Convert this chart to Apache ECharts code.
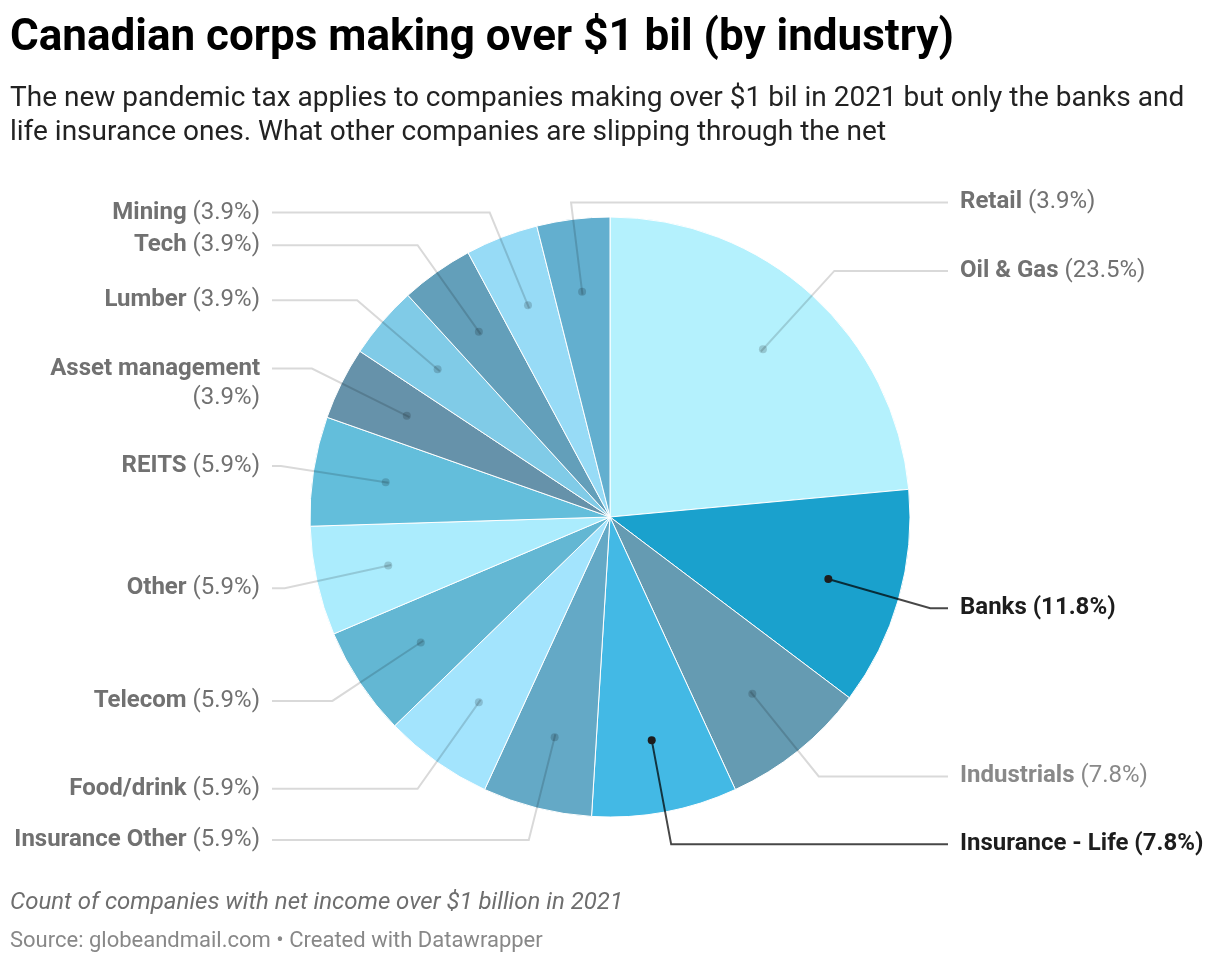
<!DOCTYPE html>
<html>
<head>
<meta charset="utf-8">
<script src="https://cdn.jsdelivr.net/npm/echarts@6/dist/echarts.min.js"></script>
<style>
  html, body { margin: 0; padding: 0; background: #fff; }
  #main { width: 1220px; height: 962px; }
</style>
</head>
<body>
<div id="main"></div>
<script>
// data: count of companies with net income over $1 billion in 2021
var industries = ['Oil & Gas', 'Banks', 'Industrials', 'Insurance - Life', 'Insurance Other',
  'Food/drink', 'Telecom', 'Other', 'REITS', 'Asset management', 'Lumber', 'Tech', 'Mining', 'Retail'];
var counts = [12, 6, 4, 4, 3, 3, 3, 3, 3, 2, 2, 2, 2, 2];
var sliceColors = ['#b4f1fd', '#1aa1cd', '#659bb2', '#43b9e5', '#64a9c6', '#a3e4fd', '#63b7d3',
  '#abecfd', '#63bedb', '#6692aa', '#80cbe7', '#639fba', '#97dbf6', '#63afcf'];
var highlighted = ['Banks', 'Insurance - Life'];
var faded = ['Industrials'];
var rightSideSmall = ['Retail'];   // label goes to the right although slice is just left of top

var total = counts.reduce(function (a, b) { return a + b; }, 0);
var FONT = 'Roboto';

var myChart = echarts.init(document.getElementById('main'));

function pct(v) {
  return (v / total * 100).toFixed(1) + '%';
}

var box = { left: 0, right: 0, top: 170, bottom: 100 };
var center = [610, 347];
var outerR = 300, labelR = 224, lineOut = 38, textGap = 12;

var labelData = industries.map(function (name, i) {
  var item = { name: name, value: counts[i] };
  if (highlighted.indexOf(name) >= 0) {
    item.labelLine = { lineStyle: { color: 'rgba(0,0,0,0.72)' } };
  }
  if (name === 'Asset management') {
    item.label = { padding: [29, 0, 0, 0] };
  }
  return item;
});

var dotData = industries.map(function (name, i) {
  var hi = highlighted.indexOf(name) >= 0;
  return {
    name: name, value: counts[i],
    label: { backgroundColor: hi ? '#1d1d1d' : 'rgba(0,0,0,0.17)' }
  };
});

// line ends all line up left and right of the pie, like datawrapper does
function alignLabels(p) {
  var pts = p.labelLinePoints;
  if (!pts) return;
  var cx = box.left + center[0], cy = box.top + center[1];
  var p0 = pts[0], elbow = pts[1];
  var side = pts[2][0] < elbow[0] ? -1 : 1;
  if (rightSideSmall.indexOf(industries[p.dataIndex]) >= 0) {
    side = 1;
    var k = (outerR + 17) / labelR;
    elbow = [cx + (p0[0] - cx) * k, cy + (p0[1] - cy) * k];
  }
  var endX = cx + side * (outerR + lineOut);
  return {
    x: endX + side * textGap, y: elbow[1],
    align: side < 0 ? 'right' : 'left', verticalAlign: 'middle',
    labelLinePoints: [p0, elbow, [endX, elbow[1]]]
  };
}

option = {
  backgroundColor: '#fff',
  animation: false,
  title: [{
    text: 'Canadian corps making over $1 bil (by industry)',
    subtext: 'The new pandemic tax applies to companies making over $1 bil in 2021 but only the banks and\nlife insurance ones. What other companies are slipping through the net',
    left: 10, top: 13, padding: 0,
    itemGap: 17,
    textStyle: { fontFamily: FONT, fontSize: 44, fontWeight: 'bold', color: '#000', lineHeight: 52 },
    subtextStyle: { fontFamily: FONT, fontSize: 28, color: '#222', lineHeight: 34 }
  }, {
    text: 'Count of companies with net income over $1 billion in 2021',
    left: 10, top: 888, padding: 0,
    textStyle: { fontFamily: FONT, fontSize: 24, fontWeight: 'normal', fontStyle: 'italic', color: '#6e6e6e', lineHeight: 30 }
  }, {
    text: 'Source: globeandmail.com • Created with Datawrapper',
    left: 10, top: 928, padding: 0,
    textStyle: { fontFamily: FONT, fontSize: 22, fontWeight: 'normal', color: '#888', lineHeight: 26 }
  }],
  series: [
    {
      // the slices
      type: 'pie',
      z: 1,
      left: box.left, right: box.right, top: box.top, bottom: box.bottom,
      center: center,
      radius: [0, outerR],
      startAngle: 90,
      clockwise: true,
      silent: true,
      label: { show: false },
      labelLine: { show: false },
      itemStyle: { borderColor: '#fff', borderWidth: 1 },
      data: industries.map(function (name, i) {
        return { name: name, value: counts[i], itemStyle: { color: sliceColors[i] } };
      })
    },
    {
      // invisible inner pie that carries the labels, so lines start inside the slices
      type: 'pie',
      z: 3,
      left: box.left, right: box.right, top: box.top, bottom: box.bottom,
      center: center,
      radius: [0, labelR],
      startAngle: 90,
      clockwise: true,
      silent: true,
      itemStyle: { color: 'rgba(0,0,0,0)', borderWidth: 0 },
      label: {
        show: true,
        position: 'outside',
        alignTo: 'labelLine',
        distanceToLabelLine: textGap,
        width: 330,
        overflow: 'none',
        fontFamily: FONT,
        formatter: function (p) {
          if (highlighted.indexOf(p.name) >= 0) return '{hb|' + p.name + ' (' + pct(p.value) + ')}';
          var sep = p.name === 'Asset management' ? '\n' : ' ';
          var f = faded.indexOf(p.name) >= 0 ? 'f' : '';
          return '{b' + f + '|' + p.name + '}{p' + f + '|' + sep + '(' + pct(p.value) + ')}';
        },
        rich: {
          b: { fontFamily: FONT, fontSize: 24, fontWeight: 'bold', color: '#717171', lineHeight: 29 },
          p: { fontFamily: FONT, fontSize: 24, color: '#717171', lineHeight: 29 },
          bf: { fontFamily: FONT, fontSize: 24, fontWeight: 'bold', color: '#898989', lineHeight: 29 },
          pf: { fontFamily: FONT, fontSize: 24, color: '#898989', lineHeight: 29 },
          hb: { fontFamily: FONT, fontSize: 24, fontWeight: 'bold', color: '#1d1d1d', lineHeight: 29 }
        }
      },
      labelLine: {
        show: true,
        length: 109,
        length2: 14,
        smooth: false,
        lineStyle: { color: 'rgba(0,0,0,0.15)', width: 2 }
      },
      labelLayout: alignLabels,
      data: labelData
    },
    {
      // small dots where the label lines begin
      type: 'pie',
      z: 4,
      left: box.left, right: box.right, top: box.top, bottom: box.bottom,
      center: center,
      radius: [148, outerR],
      startAngle: 90,
      clockwise: true,
      silent: true,
      itemStyle: { color: 'rgba(0,0,0,0)', borderWidth: 0 },
      label: {
        show: true,
        position: 'inside',
        formatter: '{d|}',
        rich: { d: { width: 8, height: 8, borderRadius: 4 } },
        width: 8, height: 8, borderRadius: 4, padding: 0
      },
      labelLine: { show: false },
      data: dotData
    }
  ]
};

myChart.setOption(option);
</script>
</body>
</html>
